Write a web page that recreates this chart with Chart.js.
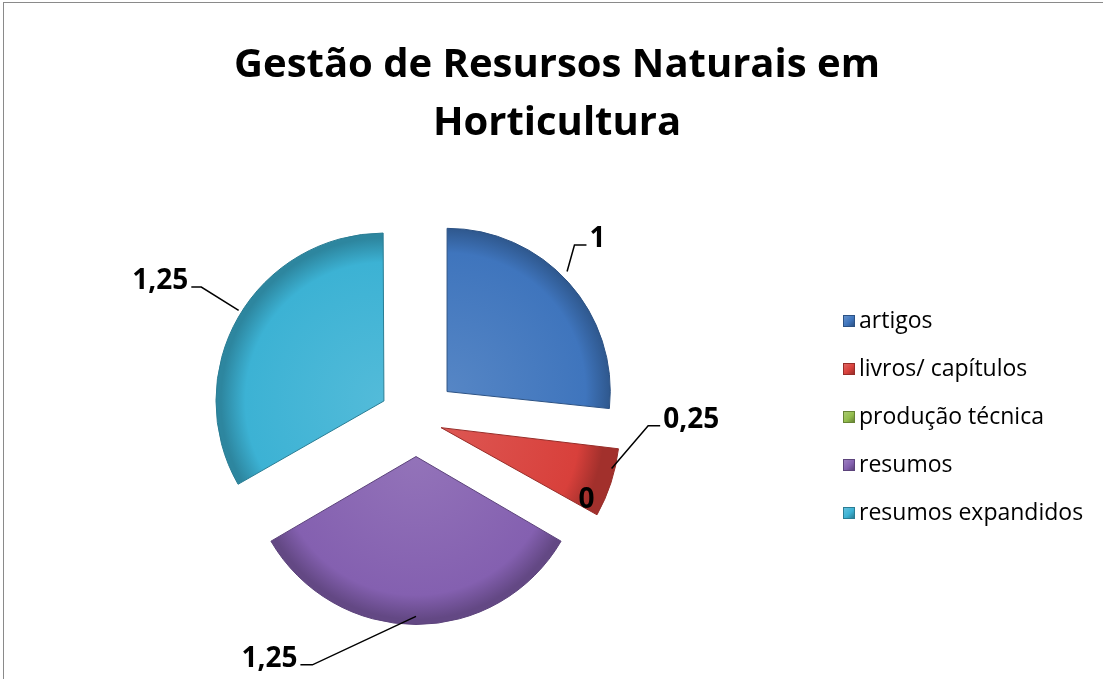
<!DOCTYPE html>
<html>
<head>
<meta charset="utf-8">
<script src="https://cdn.jsdelivr.net/npm/chart.js@4"></script>
<style>
  html, body { margin: 0; padding: 0; background: #fff; overflow: hidden; }
  #wrap { position: relative; width: 1103px; height: 679px; }
  #frame { position: absolute; left: 3px; top: 2px; right: -10px; bottom: -10px; border: 1px solid #8a8a8a; pointer-events: none; }
  #title { position: absolute; left: 157px; width: 800px; top: 33px; text-align: center;
           font-family: "Open Sans", sans-serif; font-weight: bold; font-size: 40px; line-height: 58px; color: #000; }
  #legend { position: absolute; left: 843px; top: 295px; margin: 0; padding: 0; list-style: none;
            font-family: "Open Sans", sans-serif; font-size: 23px; color: #000; }
  #legend li { height: 48px; line-height: 48px; white-space: nowrap; }
  #legend span.box { display: inline-block; width: 12px; height: 12px; margin-right: 4px; vertical-align: middle;
                     position: relative; top: -1px; box-sizing: border-box; }
</style>
</head>
<body>
<div id="wrap">
  <canvas id="chart" width="1103" height="679"></canvas>
  <div id="title"></div>
  <ul id="legend"></ul>
  <div id="frame"></div>
</div>
<script>
// Data
const categories = ['artigos', 'livros/ capítulos', 'produção técnica', 'resumos', 'resumos expandidos'];
const values = [1, 0.25, 0, 1.25, 1.25];
const valueLabels = ['1', '0,25', '0', '1,25', '1,25'];
const titleLines = ['Gestão de Resursos Naturais em', 'Horticultura'];

// Styles
const colors = ['#3f75bd', '#d8403b', '#93bd4c', '#8460b0', '#3cb2d4'];
const explodePx = 42;
const pieRadius = 163;

// leader lines: angles (deg) and radii (x radius) measured from each slice centre
const leaders = [
    { a0: -45, r0: 1.04, a1: -49, r1: 1.19, dx: 12 },
    { a0: 13, r0: 0.98, a1: -2, r1: 1.18, dx: 12 },
    { a: 24, r: 0.9 },
    { a0: 90, r0: 0.95, a1: 117, r1: 1.4, dx: -12 },
    { a0: 212, r0: 1.02, a1: 212, r1: 1.29, dx: -10 }
];

const total = values.reduce((a, b) => a + b, 0);

function shade(hex, amt) {
    const n = parseInt(hex.slice(1), 16);
    let r = (n >> 16) & 255, g = (n >> 8) & 255, b = n & 255;
    const f = v => Math.max(0, Math.min(255, Math.round(amt > 0 ? v + (255 - v) * amt : v * (1 + amt))));
    return `rgb(${f(r)},${f(g)},${f(b)})`;
}

// Chart.js v4 arc offset: translation = offset/4 * (2 - sin(min(PI, circ)))
function offsetFor(i) {
    const circ = values[i] / total * Math.PI * 2;
    return 4 * explodePx / (2 - Math.sin(Math.min(Math.PI, circ)));
}

function arcShift(arc) {
    const p = arc.getProps(['x', 'y', 'startAngle', 'endAngle'], true);
    const circ = p.endAngle - p.startAngle;
    const off = (arc.options.offset || 0) / 4;
    const t = off * (2 - Math.sin(Math.min(Math.PI, circ)));
    const mid = (p.startAngle + p.endAngle) / 2;
    return { cx: p.x + Math.cos(mid) * t, cy: p.y + Math.sin(mid) * t };
}

const labelPlugin = {
    id: 'leaderLabels',
    afterDatasetsDraw(chart) {
        const ctx = chart.ctx;
        const meta = chart.getDatasetMeta(0);
        ctx.save();
        ctx.font = 'bold 28px "Open Sans"';
        ctx.fillStyle = '#000';
        ctx.strokeStyle = '#000';
        ctx.lineWidth = 1.5;
        meta.data.forEach((arc, i) => {
            const { cx, cy } = arcShift(arc);
            const L = leaders[i];
            const rad = d => d * Math.PI / 180;
            if (L.a !== undefined) {
                ctx.textAlign = 'center';
                ctx.textBaseline = 'middle';
                ctx.fillText(valueLabels[i], cx + Math.cos(rad(L.a)) * pieRadius * L.r, cy + Math.sin(rad(L.a)) * pieRadius * L.r);
                return;
            }
            const x0 = cx + Math.cos(rad(L.a0)) * pieRadius * L.r0;
            const y0 = cy + Math.sin(rad(L.a0)) * pieRadius * L.r0;
            const x1 = cx + Math.cos(rad(L.a1)) * pieRadius * L.r1;
            const y1 = cy + Math.sin(rad(L.a1)) * pieRadius * L.r1;
            const x2 = x1 + L.dx;
            ctx.beginPath();
            ctx.moveTo(x0, y0);
            ctx.lineTo(x1, y1);
            ctx.lineTo(x2, y1);
            ctx.stroke();
            ctx.textBaseline = 'middle';
            ctx.textAlign = L.dx > 0 ? 'left' : 'right';
            ctx.fillText(valueLabels[i], x2 + (L.dx > 0 ? 3 : -3), y1 - 6);
        });
        ctx.restore();
    }
};

// HTML title and legend
document.getElementById('title').innerHTML = titleLines.join('<br>');
const legendEl = document.getElementById('legend');
categories.forEach((c, i) => {
    const li = document.createElement('li');
    const box = document.createElement('span');
    box.className = 'box';
    box.style.background = `linear-gradient(135deg, ${shade(colors[i], 0.2)}, ${colors[i]} 55%, ${shade(colors[i], -0.3)})`;
    box.style.border = `1px solid ${shade(colors[i], -0.3)}`;
    li.appendChild(box);
    li.appendChild(document.createTextNode(c));
    legendEl.appendChild(li);
});

const ctx = document.getElementById('chart').getContext('2d');
new Chart(ctx, {
    type: 'pie',
    data: {
        labels: categories,
        datasets: [{
            data: values,
            radius: pieRadius,
            offset: c => offsetFor(c.dataIndex),
            backgroundColor: c => {
                const area = c.chart.chartArea;
                const base = colors[c.dataIndex];
                if (!area) return base;
                const x = (area.left + area.right) / 2;
                const y = (area.top + area.bottom) / 2;
                const g = c.chart.ctx.createRadialGradient(x, y, 0, x, y, pieRadius);
                g.addColorStop(0, shade(base, 0.12));
                g.addColorStop(0.85, base);
                g.addColorStop(1, shade(base, -0.25));
                return g;
            },
            borderColor: colors.map(c => shade(c, -0.3)),
            borderWidth: 1
        }]
    },
    options: {
        responsive: false,
        animation: false,
        layout: { padding: { left: 13, right: 284, top: 172, bottom: 12 } },
        plugins: {
            title: { display: false },
            legend: { display: false },
            tooltip: { enabled: false }
        }
    },
    plugins: [labelPlugin]
});
</script>
</body>
</html>
